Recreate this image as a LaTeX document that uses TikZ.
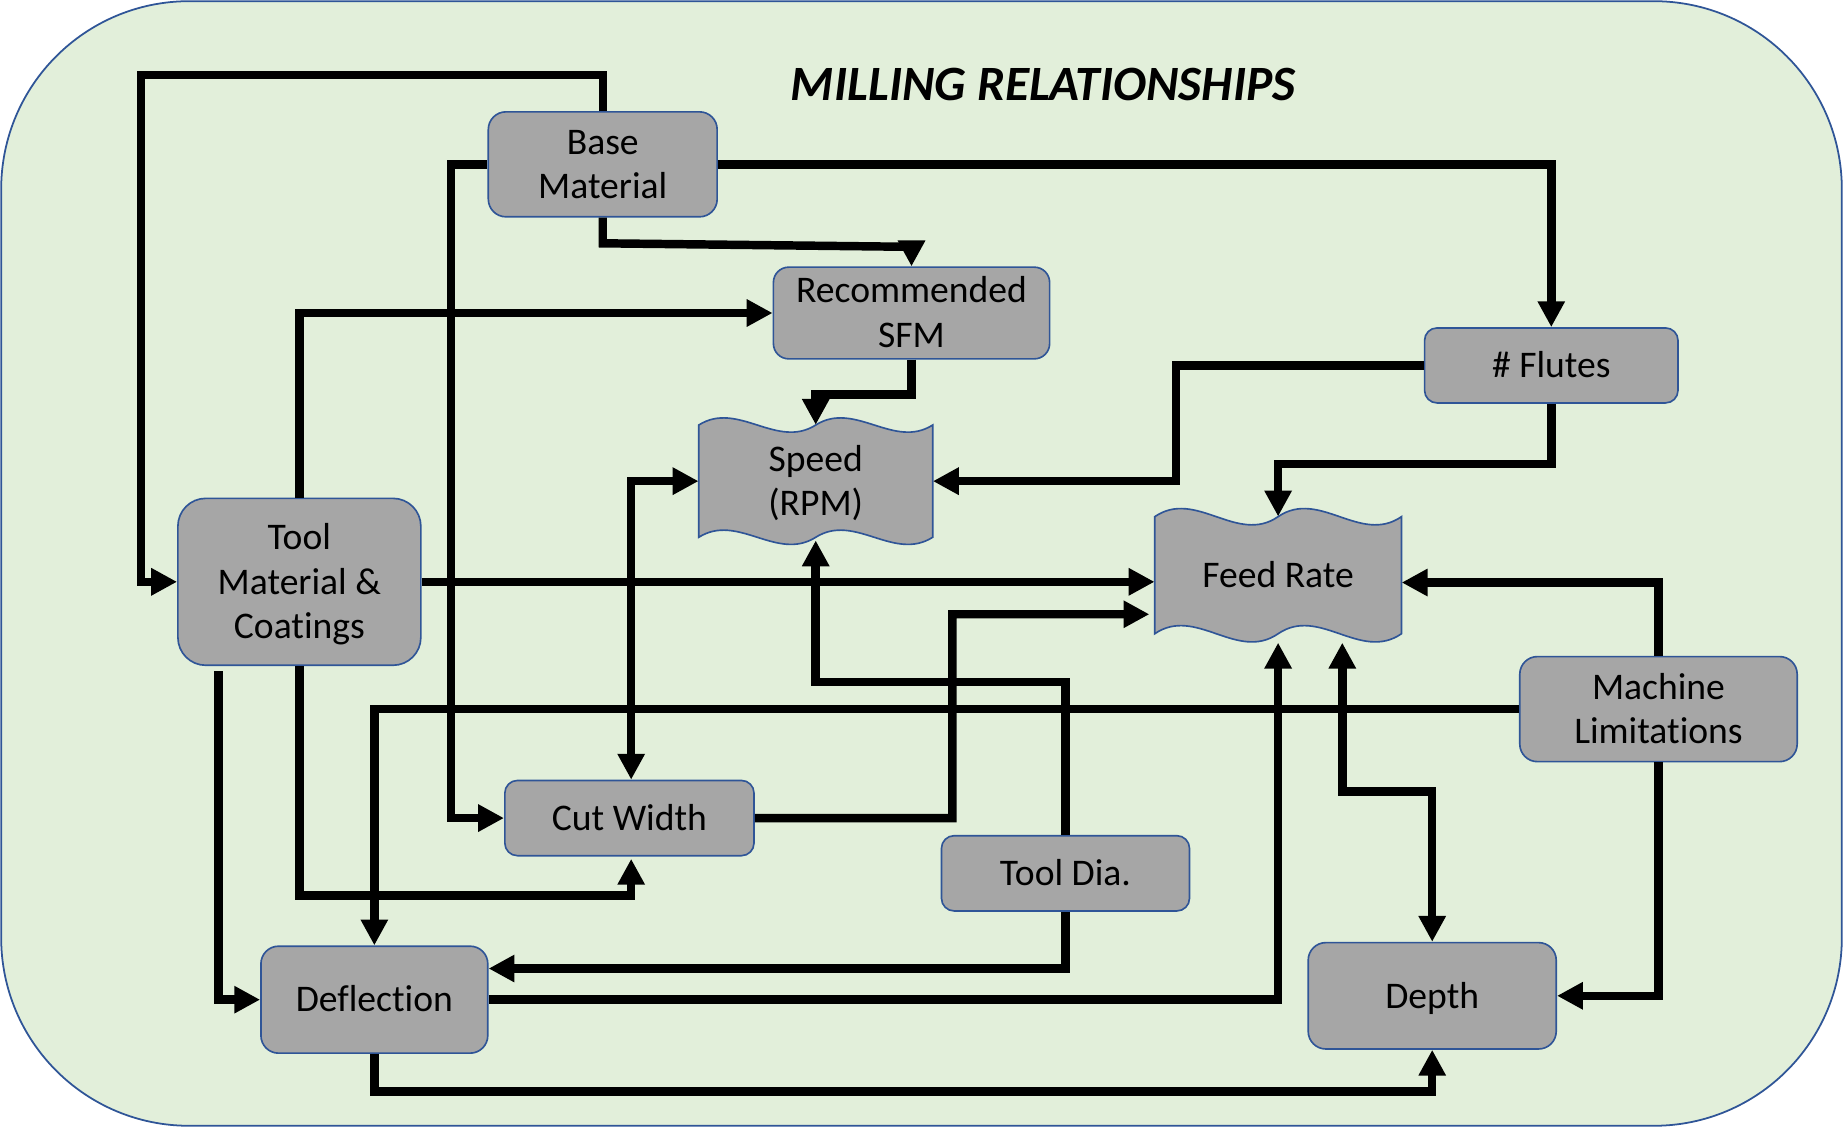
\documentclass[tikz,border=0pt]{standalone}
\usepackage{fontspec}
\setmainfont{Carlito}[Ligatures=NoCommon]
\usetikzlibrary{arrows.meta}
\definecolor{bggreen}{HTML}{E2EFDA}
\definecolor{boxgray}{HTML}{A6A6A6}
\definecolor{boxblue}{HTML}{2F5597}
\newcommand\lstr{\rule[-8.6pt]{0pt}{38pt}}
% wavy (double wave) outline: xL, xR, top mean, bottom mean, control offset
\newcommand\wavebox[5]{%
  \filldraw[tapeoutline] (#1,#3)
   .. controls ({#1+(#2-#1)/6},{#3-#5}) and ({#1+(#2-#1)/3},{#3+#5}) .. ({(#1+#2)/2},#3)
   .. controls ({#1+2*(#2-#1)/3},{#3-#5}) and ({#1+5*(#2-#1)/6},{#3+#5}) .. (#2,#3)
   -- (#2,#4)
   .. controls ({#1+5*(#2-#1)/6},{#4+#5}) and ({#1+2*(#2-#1)/3},{#4-#5}) .. ({(#1+#2)/2},#4)
   .. controls ({#1+(#2-#1)/3},{#4+#5}) and ({#1+(#2-#1)/6},{#4-#5}) .. (#1,#4)
   -- cycle;}
\begin{document}
\begin{tikzpicture}[x=1pt,y=-1pt,
  box/.style={draw=boxblue, fill=boxgray, line width=1.4pt, align=center, inner sep=0pt,
              font=\fontsize{32}{38}\selectfont},
  tapeoutline/.style={draw=boxblue, fill=boxgray, line width=1.4pt},
  tapelbl/.style={align=center, inner sep=0pt, font=\fontsize{32}{38}\selectfont},
  conn/.style={line width=7.2pt, -{Triangle[length=22pt,width=22pt]}},
  both/.style={line width=7.2pt, {Triangle[length=22pt,width=22pt]}-{Triangle[length=22pt,width=22pt]}},
]
\useasboundingbox (0,0) rectangle (1568,958.8);
\draw[fill=bggreen, draw=boxblue, line width=1.5pt, rounded corners=160pt] (1,1) rectangle (1567,957.8);

\node[anchor=base, inner sep=0pt, font=\fontsize{42}{50}\selectfont\bfseries\itshape] (title) at (887.5,85.1) {MILLING RELATIONSHIPS};

% wavy shapes
\wavebox{594.5}{793.5}{361.6}{457.1}{21}
\wavebox{982.4}{1192.3}{439.6}{539.2}{24}
\node[tapelbl, minimum width=199pt, minimum height=95.5pt] (speed) at (694,409.35) {\lstr Speed\\\lstr (RPM)};
\node[tapelbl, minimum width=209.9pt, minimum height=99.6pt] (feed) at (1087.4,489.4) {\lstr Feed Rate};

% boxes
\node[box, minimum width=194.7pt, minimum height=89.3pt, rounded corners=15pt] (base) at (512.8,139.8) {\lstr Base\\\lstr Material};
\node[box, minimum width=235pt, minimum height=78pt, rounded corners=13pt] (sfm) at (775.5,266.3) {\lstr Recommended\\\lstr SFM};
\node[box, minimum width=215.6pt, minimum height=63.8pt, rounded corners=10.6pt] (flutes) at (1319.8,310.9) {\lstr \# Flutes};
\node[box, minimum width=206.7pt, minimum height=142pt, rounded corners=23.7pt] (tool) at (254.7,495) {\lstr Tool\\\lstr Material \&\\\lstr Coatings};
\node[box, minimum width=236pt, minimum height=89.4pt, rounded corners=15pt] (machine) at (1411,603.3) {\lstr Machine\\\lstr Limitations};
\node[box, minimum width=212pt, minimum height=64pt, rounded corners=10.7pt] (cutw) at (535.5,696) {\lstr Cut Width};
\node[box, minimum width=211pt, minimum height=64pt, rounded corners=10.7pt] (tooldia) at (906.5,743) {\lstr Tool Dia.};
\node[box, minimum width=193pt, minimum height=91pt, rounded corners=15pt] (defl) at (318.5,850.5) {\lstr Deflection};
\node[box, minimum width=211pt, minimum height=90.5pt, rounded corners=15pt] (depth) at (1218.5,847.2) {\lstr Depth};

% connectors
\draw[conn] (base.north) |- (119.8,63.8) |- (tool.west);
\draw[conn] (base.west) -| (383.5,696) -- (cutw.west);
\draw[conn] (base.east) -| (flutes.north);
\draw[conn] (base.south) -- (512.8,207) -- (775.5,210) -- (sfm.north);
\draw[conn] (tool.north) |- (sfm.west);
\draw[conn] (sfm.south) -- ++(0,29.6) -| (speed.north);
\draw[conn] (flutes.west) -| (1000.7,409.35) -- (speed.east);
\draw[conn] (flutes.south) -- ++(0,51.2) -| (feed.north);
\draw[conn] (tool.east) -- (tool.east -| feed.west);
\draw[conn] (cutw.east) -| (810.3,522.6) -- ([xshift=-4.4pt,yshift=-33.2pt]feed.west);
\draw[both] ([xshift=1.5pt]cutw.north) |- (speed.west);
\draw[conn] (tooldia.north) -- ++(0,-130) -| ([yshift=-2.5pt]speed.south);
\draw[conn] (tooldia.south) |- ([yshift=26.5pt]defl.east);
\draw[conn] (machine.west) -| (defl.north);
\draw[conn] (machine.north) |- ([yshift=-6.2pt]feed.east);
\draw[conn] (machine.south) |- (depth.east);
\draw[conn] (defl.east) -| ([yshift=-7.4pt]feed.south);
\draw[both] (depth.north) -- ++(0,-128) -| ([xshift=54.6pt,yshift=-7.4pt]feed.south);
\draw[conn] (defl.south) -- ++(0,32) -| (depth.south);
\draw[conn] (tool.south) -- ++(0,195) -| ([xshift=1.5pt,yshift=-2pt]cutw.south);
\coordinate (tf) at (185.8,571);
\draw[conn] (tf) |- (defl.west);
\end{tikzpicture}
\end{document}
